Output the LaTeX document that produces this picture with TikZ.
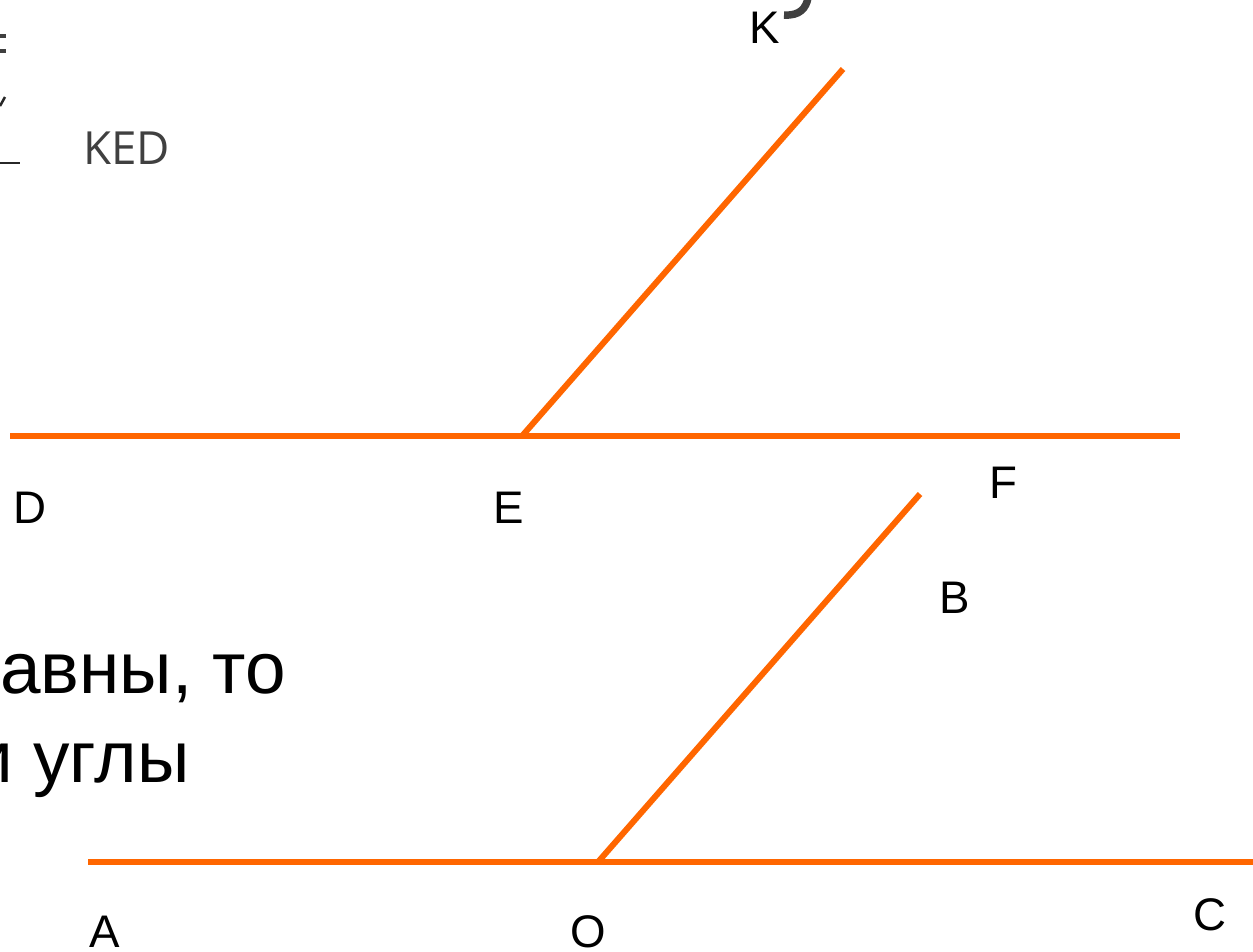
\documentclass[tikz,border=0pt]{standalone}
\usepackage{fontspec}
\setmainfont{Liberation Sans}
\newfontfamily\kedfont{Open Sans}
\usepackage{xcolor}
\usepackage{tikz}
\definecolor{rayorange}{HTML}{FF6600}
\definecolor{slidegray}{HTML}{404040}
\tikzset{
  ray/.style={rayorange, line width=0.12cm},
  ptlabel/.style={font=\fontsize{26}{30}\selectfont, inner sep=0pt},
  bigtext/.style={font=\fontsize{41.5}{48}\selectfont, inner sep=0pt}
}

\begin{document}
\begin{tikzpicture}[x=0.02cm, y=-0.02cm]
  \useasboundingbox (0,0) rectangle (1253,951);
  \clip (0,0) rectangle (1253,951);
  \coordinate (d0) at (10,436);
  \coordinate (f0) at (1180,436);
  \coordinate (e0) at (522,436);
  \coordinate (k0) at (843,69);
  \coordinate (a0) at (88,862);
  \coordinate (c0) at (1260,862);
  \coordinate (o0) at (598,862);
  \coordinate (b0) at (920,494);
  \draw[ray] (d0) -- (f0);
  \draw[ray] (e0) -- (k0);
  \draw[ray] (a0) -- (c0);
  \draw[ray] (o0) -- (b0);
  \node[ptlabel] (K) at (765,28) {K};
  \node[ptlabel] (D) at (30,508) {D};
  \node[ptlabel] (E) at (509,508) {E};
  \node[ptlabel] (F) at (1003,483) {F};
  \node[ptlabel] (B) at (955,598) {B};
  \node[ptlabel] (A) at (105,932) {A};
  \node[ptlabel] (O) at (588,932) {O};
  \node[ptlabel] (C) at (1210,915) {C};
  \node[inner sep=0pt, anchor=base west, text=slidegray, font=\kedfont\fontsize{26}{30}\selectfont] (ked) at (83,164) {KED};
  \draw[slidegray, line width=0.07cm] (-10,36) -- (6,36) (-10,51) -- (6,51);
  \draw[slidegray!60!black, line width=0.05cm] (0,106) -- (5,97);
  \draw[slidegray!60!black, line width=0.05cm] (-10,163) -- (20,163);
  \draw[slidegray, line width=0.15cm] (784,15) .. controls (800,16) and (806,8) .. (808,-2);
  \node[bigtext, anchor=base west] (line1) at (0,693) {авны, то};
  \node[bigtext, anchor=base east] (line2) at (190,782) {и углы};
\end{tikzpicture}
\end{document}
